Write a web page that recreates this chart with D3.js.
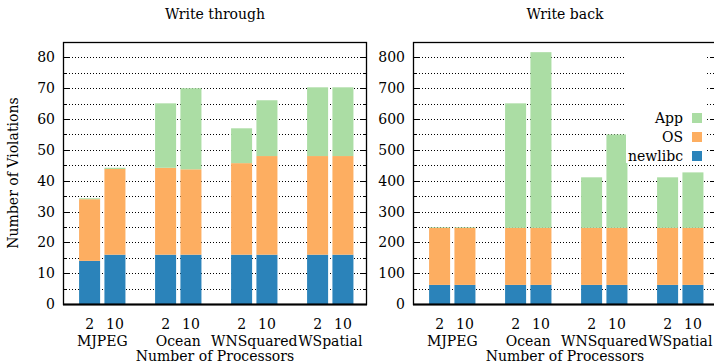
<!DOCTYPE html>
<html>
<head>
<meta charset="utf-8">
<script src="https://cdn.jsdelivr.net/npm/d3@7"></script>
<style>
  html, body { margin: 0; padding: 0; background: #fff; }
  svg { display: block; }
  text { font-family: "DejaVu Serif", serif; fill: #000; }
</style>
</head>
<body>
<svg id="chart" width="714" height="364"></svg>
<script>
// ---- data ----
const groups = ["MJPEG", "Ocean", "WNSquared", "WSpatial"];
const procs = ["2", "10"];
const seriesNames = ["newlibc", "OS", "App"];
const seriesColors = ["#2b83ba", "#fdae61", "#abdda4"];

// Write through (order: MJPEG-2, MJPEG-10, Ocean-2, Ocean-10, WNSquared-2, WNSquared-10, WSpatial-2, WSpatial-10)
const wtNewlibc = [14, 16, 16, 16, 16, 16, 16, 16];
const wtOS      = [20, 27.8, 28.2, 27.7, 29.7, 32, 32, 32];
const wtApp     = [0.3, 0.4, 20.9, 26.3, 11.3, 18.1, 22.3, 22.3];
const wtTicks   = [0, 10, 20, 30, 40, 50, 60, 70, 80];

// Write back
const wbNewlibc = [62, 62, 62, 62, 62, 62, 62, 62];
const wbOS      = [185, 185, 185, 185, 185, 185, 185, 185];
const wbApp     = [2, 2, 404, 570, 164, 303, 164, 180];
const wbTicks   = [0, 100, 200, 300, 400, 500, 600, 700, 800];

const FS = 14;
const svg = d3.select("#chart");

function panel(cfg) {
  const { x0, x1, yTop, yBot, title, newlibc, os, app, ticks, ymax, minorStep, legend } = cfg;
  const g = svg.append("g");

  const rows = [];
  groups.forEach((grp, gi) => {
    procs.forEach((p, pi) => {
      const i = gi * 2 + pi;
      rows.push({ pos: gi * 3 + pi, group: grp, proc: p, newlibc: newlibc[i], OS: os[i], App: app[i] });
    });
  });

  const x = d3.scaleLinear().domain([-1.05, 10.95]).range([x0, x1]);
  const y = d3.scaleLinear().domain([0, ymax]).range([yBot, yTop]);
  const unit = x(1) - x(0);
  const bw = unit * 0.83;

  // grid (dotted) at minor steps
  const gridVals = d3.range(minorStep, ymax, minorStep).filter(v => v < ymax - 0.001);
  g.append("g").selectAll("line").data(gridVals).join("line")
    .attr("x1", x0).attr("x2", x1)
    .attr("y1", d => Math.round(y(d)) + 0.5).attr("y2", d => Math.round(y(d)) + 0.5)
    .attr("stroke", "#000").attr("stroke-width", 1).attr("stroke-dasharray", "1,2");

  // stacked bars
  const stacked = d3.stack().keys(seriesNames)(rows);
  g.append("g").selectAll("g").data(stacked).join("g")
    .attr("fill", (d, i) => seriesColors[i])
    .selectAll("rect").data(d => d).join("rect")
    .attr("x", d => x(d.data.pos) - bw / 2)
    .attr("width", bw)
    .attr("y", d => y(d[1]))
    .attr("height", d => y(d[0]) - y(d[1]));

  // legend
  if (legend) {
    const lg = g.append("g");
    lg.append("rect").attr("x", legend.bx).attr("y", legend.by).attr("width", legend.bw).attr("height", legend.bh).attr("fill", "#fff");
    const order = ["App", "OS", "newlibc"];
    order.forEach((name, k) => {
      const cy = legend.y0 + k * 19;
      lg.append("text").attr("x", legend.tx).attr("y", cy).attr("dy", "0.35em")
        .attr("text-anchor", "end").attr("font-size", FS).text(name);
      lg.append("rect").attr("x", legend.sx).attr("y", cy - 5).attr("width", 10).attr("height", 10)
        .attr("fill", seriesColors[seriesNames.indexOf(name)]);
    });
  }

  // ticks: major on both sides, minor at half steps
  const majorStep = ticks[1] - ticks[0];
  const minorVals = d3.range(majorStep / 2, ymax, majorStep);
  const tg = g.append("g").attr("stroke", "#000").attr("stroke-width", 1);
  ticks.forEach(v => {
    const yy = Math.round(y(v)) + 0.5;
    tg.append("line").attr("x1", x0).attr("x2", x0 + 6).attr("y1", yy).attr("y2", yy);
    tg.append("line").attr("x1", x1).attr("x2", x1 - 6).attr("y1", yy).attr("y2", yy);
  });
  minorVals.forEach(v => {
    const yy = Math.round(y(v)) + 0.5;
    tg.append("line").attr("x1", x0).attr("x2", x0 + 3).attr("y1", yy).attr("y2", yy);
    tg.append("line").attr("x1", x1).attr("x2", x1 - 3).attr("y1", yy).attr("y2", yy);
  });

  // frame
  g.append("rect").attr("x", x0 + 0.5).attr("y", yTop + 0.5)
    .attr("width", x1 - x0 - 1).attr("height", yBot - yTop)
    .attr("fill", "none").attr("stroke", "#000").attr("stroke-width", 1.3);
  g.append("line").attr("x1", x0).attr("x2", x1).attr("y1", yBot + 0.5).attr("y2", yBot + 0.5)
    .attr("stroke", "#000").attr("stroke-width", 2);

  // y tick labels
  g.append("g").selectAll("text").data(ticks).join("text")
    .attr("x", x0 - 8).attr("y", d => y(d)).attr("dy", "0.36em")
    .attr("text-anchor", "end").attr("font-size", FS).text(d => d);

  // x labels
  g.append("g").selectAll("text").data(rows).join("text")
    .attr("x", d => x(d.pos)).attr("y", 329)
    .attr("text-anchor", "middle").attr("font-size", FS).text(d => d.proc);
  g.append("g").selectAll("text").data(groups).join("text")
    .attr("x", (d, i) => x(i * 3 + 0.5)).attr("y", 346)
    .attr("text-anchor", "middle").attr("font-size", FS).text(d => d);
  g.append("text").attr("x", (x0 + x1) / 2).attr("y", 361)
    .attr("text-anchor", "middle").attr("font-size", FS).text("Number of Processors");

  // title
  g.append("text").attr("x", (x0 + x1) / 2).attr("y", 19)
    .attr("text-anchor", "middle").attr("font-size", FS).text(title);
}

panel({ x0: 63, x1: 367, yTop: 42, yBot: 304, title: "Write through",
  newlibc: wtNewlibc, os: wtOS, app: wtApp, ticks: wtTicks, ymax: 85, minorStep: 5 });
panel({ x0: 413, x1: 717, yTop: 42, yBot: 304, title: "Write back",
  newlibc: wbNewlibc, os: wbOS, app: wbApp, ticks: wbTicks, ymax: 850, minorStep: 50,
  legend: { bx: 626, by: 47, bw: 80, bh: 116, tx: 683, sx: 692, y0: 118 } });

// y axis title
svg.append("text").attr("transform", "translate(18,173) rotate(-90)")
  .attr("text-anchor", "middle").attr("font-size", FS).text("Number of Violations");
</script>
</body>
</html>
